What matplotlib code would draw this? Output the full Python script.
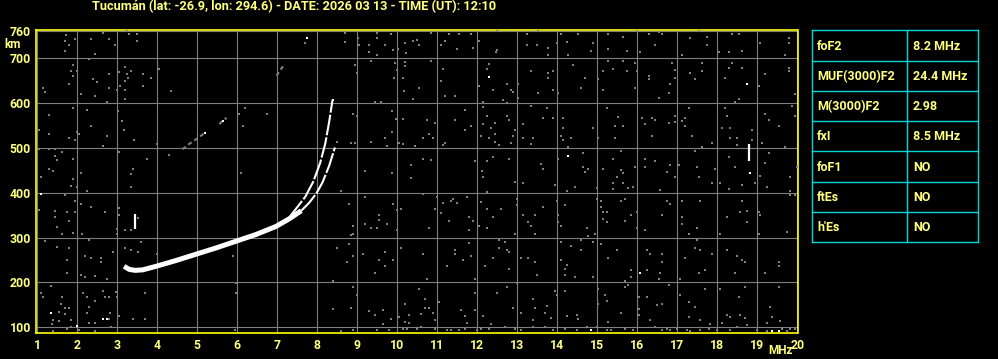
import matplotlib
matplotlib.use("Agg")
import matplotlib.pyplot as plt

TITLE = "Tucumán (lat: -26.9, lon: 294.6) - DATE: 2026 03 13 - TIME (UT): 12:10"

freq_ticks = list(range(1, 21))
height_ticks = [100, 200, 300, 400, 500, 600, 700, 760]

# table of scaled parameters
param_names = ["foF2", "MUF(3000)F2", "M(3000)F2", "fxI", "foF1", "ftEs", "h'Es"]
param_values = ["8.2 MHz", "24.4 MHz", "2.98", "8.5 MHz", "NO", "NO", "NO"]

# F trace: thick lower part (O and X overlapping), then the two split branches
band_mhz = [3.17, 3.3, 3.45, 3.63, 3.97, 4.47, 4.97, 5.47, 5.97, 6.47, 6.97, 7.3, 7.6]
band_km = [236, 229, 227, 228, 236, 249, 263, 277, 292, 307, 325, 342, 360]
branch_o_mhz = [7.3, 7.5, 7.7, 7.9, 8.07, 8.2, 8.3, 8.36, 8.38]
branch_o_km = [345, 368, 391, 425, 466, 510, 560, 595, 607]
branch_x_mhz = [7.6, 7.8, 7.98, 8.13, 8.3, 8.44]
branch_x_km = [360, 378, 399, 423, 461, 501]

# short white vertical echoes
spike_mhz = [3.43, 18.8]
spike_lo_km = [320, 470]
spike_hi_km = [353, 509]

# faint grey echo segments
seg1_mhz = [4.63, 4.8, 5.0, 5.18]
seg1_km = [497, 509, 521, 533]
seg2_mhz = [5.55, 5.63, 5.73]
seg2_km = [553, 560, 567]
seg3_mhz = [6.98, 7.08, 7.18]
seg3_km = [661, 674, 687]

# bright isolated dots
bright_dots = [(7.73, 745), (12.28, 658), (18.73, 643), (14.28, 483), (16.08, 220),
               (1.33, 133), (2.63, 119), (2.73, 119), (1.98, 104), (14.83, 94),
               (19.38, 92), (19.53, 92), (1.08, 398), (18.83, 444), (5.18, 533),
               (5.63, 560), (8.38, 607)]

# grey noise (MHz, km)
noise = [
    (1.72, 751), (1.70, 738), (1.78, 730), (1.68, 717), (1.94, 743), (2.34, 743), (2.63, 756),
    (2.78, 743), (2.93, 730), (3.25, 760), (3.28, 754), (3.48, 753), (3.48, 738), (2.43, 710),
    (2.28, 699), (7.68, 735), (8.68, 756), (8.68, 736), (9.02, 745), (9.03, 730), (9.28, 730),
    (9.28, 714), (9.48, 756), (9.48, 745), (9.48, 708), (9.68, 730), (9.83, 753), (9.88, 719),
    (10.02, 721), (10.18, 734), (10.38, 738), (10.22, 712),
    (1.88, 684), (1.83, 671), (1.98, 671), (1.88, 660), (1.78, 643), (1.15, 634), (1.18, 625),
    (2.38, 653), (2.5, 647), (2.78, 665), (2.8, 634), (2.43, 616), (2.08, 621), (2.73, 603),
    (3.03, 670), (3.2, 680), (3.23, 664), (3.27, 655), (3.18, 649), (3.07, 639), (3.18, 630),
    (3.0, 630), (3.18, 609), (3.35, 671), (3.63, 665), (3.63, 637), (3.85, 656), (4.03, 675),
    (4.33, 627), (8.95, 684), (8.98, 667), (9.33, 693), (9.93, 689), (9.98, 674), (9.92, 656),
    (10.13, 656), (10.18, 692), (10.18, 683), (10.17, 627), (10.4, 610), (9.43, 603), (9.58, 603),
    (1.3, 574), (1.28, 530), (1.03, 540), (1.88, 589), (2.23, 585), (2.33, 548), (1.98, 535),
    (2.03, 532), (1.78, 521), (1.95, 517), (2.73, 526), (2.63, 504), (3.02, 583), (3.12, 561),
    (3.17, 539), (3.42, 517), (4.0, 509), (6.03, 576), (6.18, 589), (6.13, 548), (6.73, 576),
    (8.88, 576), (8.98, 571), (9.87, 582), (9.97, 564), (10.13, 565), (9.68, 521), (9.87, 535),
    (8.83, 510), (8.93, 510), (9.33, 513), (9.75, 505), (10.05, 510), (10.13, 508), (10.43, 504),
    (8.48, 513),
    (1.03, 497), (1.3, 498), (1.43, 498), (1.63, 490), (1.43, 481), (1.5, 472), (1.28, 452),
    (1.38, 449), (1.08, 435), (1.88, 476), (2.08, 444), (1.88, 431), (3.03, 490), (3.73, 476),
    (3.38, 453), (3.35, 441), (4.28, 484), (6.08, 444), (9.18, 449), (9.87, 444), (10.33, 461),
    (10.33, 434),
    (10.5, 741), (10.55, 729), (10.83, 756), (11.28, 754), (11.18, 738), (11.08, 730), (11.53, 753),
    (11.48, 721), (11.83, 754), (11.88, 723), (12.03, 739), (12.48, 761), (12.5, 719), (12.47, 714),
    (13.23, 753), (13.23, 730), (13.48, 730), (13.53, 761), (13.78, 723), (13.78, 708), (13.98, 733),
    (14.08, 753), (14.23, 736), (14.28, 708), (14.53, 754), (14.88, 734), (14.83, 717), (15.28, 753),
    (15.28, 721), (15.63, 747), (15.73, 717), (15.98, 761), (16.08, 713), (16.28, 754), (16.45, 730),
    (16.53, 759), (16.63, 753), (17.13, 708), (17.33, 744), (17.53, 761), (17.73, 748), (17.73, 730),
    (18.03, 713), (18.28, 713), (18.38, 753), (18.53, 753), (18.63, 717), (19.08, 735), (19.68, 708),
    (19.78, 745), (19.78, 733),
    (10.83, 693), (11.13, 675), (11.08, 649), (10.53, 634), (11.18, 616), (11.43, 616), (12.28, 688),
    (12.23, 675), (12.03, 638), (12.38, 628), (12.73, 643), (12.85, 628), (12.88, 625), (12.63, 607),
    (13.03, 643), (13.03, 612), (13.33, 671), (13.78, 667), (13.88, 671), (13.78, 656), (13.88, 630),
    (13.53, 622), (14.03, 622), (14.38, 684), (14.68, 656), (14.58, 634), (15.03, 653), (15.13, 671),
    (15.13, 628), (15.28, 693), (15.38, 675), (15.63, 693), (15.73, 671), (15.93, 689), (15.93, 634),
    (15.98, 671), (16.28, 661), (16.28, 653), (16.53, 612), (16.88, 689), (16.93, 673), (16.93, 656),
    (16.83, 643), (16.78, 622), (17.33, 667), (17.43, 653), (17.63, 689), (17.63, 671), (18.18, 656),
    (18.28, 678), (18.38, 689), (18.63, 678), (18.53, 610), (18.43, 603), (19.03, 637), (19.18, 665),
    (19.78, 678), (19.78, 671), (19.93, 621), (12.15, 603), (12.73, 601),
    (10.93, 555), (10.73, 563), (10.78, 530), (10.63, 521), (10.88, 521), (11.13, 506), (11.18, 510),
    (11.68, 585), (11.43, 562), (11.83, 548), (11.68, 539), (12.13, 592), (12.23, 571), (12.13, 553),
    (12.33, 545), (12.43, 555), (12.43, 530), (12.08, 526), (12.28, 521), (12.43, 514), (12.53, 506),
    (12.73, 571), (12.78, 562), (12.93, 539), (12.88, 526), (12.83, 512), (13.13, 553), (13.13, 521),
    (13.38, 521), (13.33, 508), (13.33, 594), (13.73, 589), (13.63, 567), (13.88, 567), (14.13, 567),
    (14.13, 544), (14.08, 526), (14.33, 521), (14.13, 517), (14.28, 503), (14.88, 544), (15.23, 589),
    (15.43, 548), (15.63, 548), (15.03, 521), (15.43, 521), (15.53, 570), (16.13, 567), (16.18, 553),
    (16.38, 567), (16.43, 562), (16.38, 526), (16.78, 556), (16.93, 571), (16.93, 558), (17.13, 559),
    (17.18, 567), (17.18, 548), (17.28, 589), (17.38, 526), (17.63, 503), (17.88, 512), (18.18, 589),
    (18.23, 571), (18.13, 544), (18.33, 544), (18.33, 521), (18.48, 521), (18.48, 506), (18.88, 539),
    (18.88, 518), (19.18, 576), (19.28, 562), (19.13, 510), (19.53, 548), (19.68, 503), (19.93, 571),
    (19.88, 594),
    (10.63, 476), (10.83, 474), (11.95, 471), (12.23, 471), (12.38, 480), (12.78, 476), (12.11, 449),
    (12.13, 435), (13.6, 465), (13.63, 453), (12.93, 425), (14.63, 489), (14.03, 476), (14.63, 458),
    (14.78, 453), (14.68, 447), (15.13, 453), (15.38, 476), (15.58, 494), (15.58, 450), (15.63, 444),
    (15.48, 435), (15.93, 458), (16.18, 476), (16.18, 458), (16.43, 471), (16.73, 447), (16.83, 462),
    (16.93, 435), (17.03, 462), (17.43, 492), (17.48, 458), (17.53, 435), (17.93, 453), (18.28, 480),
    (18.43, 458), (19.18, 467), (19.28, 489), (19.08, 438), (19.83, 435), (19.98, 458),
    (1.85, 416), (1.98, 413), (3.35, 413), (2.23, 404),
    (1.03, 362), (1.45, 360), (1.68, 395), (1.93, 382), (2.08, 375), (2.33, 369), (1.73, 358),
    (1.95, 356), (2.68, 356), (1.43, 346), (1.78, 337), (3.05, 366), (3.03, 350), (1.48, 324),
    (1.88, 311), (2.12, 308), (1.63, 307), (2.98, 320), (2.98, 308), (3.2, 317), (3.33, 317),
    (3.52, 343), (8.78, 376), (9.18, 391), (9.53, 351), (9.53, 340), (9.75, 330), (9.2, 330),
    (9.33, 321), (9.48, 321), (9.88, 376), (10.08, 364), (9.98, 361), (9.98, 318), (8.83, 306),
    (8.88, 325), (8.58, 405),
    (1.18, 292), (1.48, 278), (2.28, 295), (1.78, 277), (1.73, 249), (2.18, 258), (2.33, 254),
    (2.58, 254), (2.58, 245), (2.08, 217), (2.18, 213), (2.43, 214), (1.73, 222), (2.73, 207),
    (2.88, 267), (3.18, 277), (3.35, 272), (3.58, 290), (3.52, 267), (4.0, 263), (5.88, 258),
    (8.48, 277), (8.78, 286), (8.88, 307), (8.73, 245), (8.88, 258), (9.13, 263), (9.53, 251),
    (9.68, 267), (9.68, 236), (9.43, 222), (10.08, 277), (9.88, 249), (8.38, 204),
    (1.08, 176), (1.13, 168), (1.35, 193), (1.63, 167), (1.58, 153), (1.68, 144), (1.78, 143),
    (1.55, 135), (1.7, 130), (1.38, 116), (1.37, 107), (1.53, 113), (1.83, 116), (2.13, 177),
    (2.23, 168), (2.28, 146), (2.23, 133), (2.43, 158), (2.63, 180), (2.68, 168), (2.78, 168),
    (2.97, 178), (3.0, 167), (2.82, 131), (2.78, 119), (3.03, 125), (2.43, 109), (2.28, 109),
    (1.83, 101), (3.68, 177), (3.38, 119), (3.68, 119), (5.97, 198), (5.97, 177),
    (8.88, 190), (8.98, 173), (8.38, 140), (8.83, 143), (9.28, 136), (9.43, 128), (9.63, 139),
    (10.18, 152), (10.03, 124), (10.28, 128), (10.18, 112), (9.83, 118), (9.63, 107), (10.28, 110),
    (1.38, 92), (1.73, 97), (2.03, 95), (2.43, 92), (2.83, 101), (5.93, 95), (8.58, 92), (8.88, 94),
    (9.48, 94), (9.78, 95), (10.13, 97), (10.23, 97),
    (12.23, 401), (12.93, 423), (13.13, 421), (13.93, 417), (14.23, 405), (14.43, 413), (14.98, 410),
    (15.38, 421), (15.63, 421), (15.88, 413), (15.38, 408), (15.78, 410), (16.58, 407), (17.88, 421),
    (18.08, 421), (18.28, 408), (18.63, 417), (18.93, 421), (19.23, 413), (19.83, 404),
    (10.63, 398), (10.98, 391), (10.93, 364), (11.13, 378), (11.38, 386), (11.33, 382), (11.48, 378),
    (11.73, 391), (11.08, 354), (11.28, 338), (10.78, 321), (11.78, 347), (11.88, 338), (11.78, 317),
    (12.23, 364), (12.08, 380), (12.38, 347), (12.58, 364), (12.03, 325), (12.23, 321), (12.98, 386),
    (12.98, 373), (12.93, 308), (13.13, 351), (13.28, 334), (13.33, 325), (13.43, 350), (13.43, 307),
    (13.63, 369), (13.98, 382), (14.03, 350), (14.03, 334), (14.08, 325), (14.18, 373), (14.73, 321),
    (14.93, 308), (14.98, 386), (15.08, 382), (15.13, 356), (15.23, 356), (15.23, 334), (15.13, 341),
    (15.08, 369), (15.58, 382), (15.68, 386), (15.68, 338), (15.83, 351), (15.98, 356), (15.98, 321),
    (16.18, 317), (16.63, 351), (16.73, 382), (16.83, 376), (17.13, 382), (17.13, 347), (17.13, 330),
    (17.28, 308), (17.48, 321), (17.58, 382), (18.08, 308), (18.23, 347), (18.58, 356), (18.63, 382),
    (18.73, 334), (18.73, 360), (19.03, 356), (19.08, 351), (19.03, 308), (19.73, 312), (19.83, 395),
    (19.93, 395),
    (10.63, 264), (10.73, 208), (11.43, 272), (11.43, 263), (11.23, 236), (11.63, 249), (11.78, 289),
    (11.83, 258), (11.93, 208), (12.18, 236), (12.38, 254), (12.53, 295), (12.53, 277), (12.68, 290),
    (12.73, 272), (12.78, 267), (12.78, 231), (13.08, 254), (13.28, 254), (13.43, 245), (13.48, 217),
    (14.08, 290), (14.08, 249), (14.18, 231), (14.18, 217), (14.23, 240), (14.33, 281), (14.43, 213),
    (14.58, 295), (14.58, 272), (14.78, 304), (14.88, 290), (14.88, 213), (15.08, 286), (15.28, 254),
    (15.48, 272), (15.68, 204), (15.83, 227), (15.83, 213), (16.23, 272), (16.33, 263), (16.23, 227),
    (16.53, 207), (16.63, 263), (16.63, 245), (16.58, 222), (17.08, 208), (17.18, 254), (17.43, 277),
    (17.48, 295), (17.58, 272), (17.68, 227), (17.53, 220), (17.88, 263), (18.23, 272), (18.48, 258),
    (18.63, 249), (18.68, 245), (18.43, 220), (19.18, 222), (19.53, 245), (19.53, 236),
    (10.53, 186), (10.68, 164), (10.68, 144), (10.78, 144), (10.88, 133), (10.58, 130), (10.93, 116),
    (11.03, 156), (11.58, 139), (11.68, 125), (11.93, 177), (11.93, 139), (11.73, 110), (12.13, 125),
    (12.48, 177), (12.73, 190), (12.88, 144), (12.33, 107), (13.08, 133), (12.98, 199), (13.38, 164),
    (13.43, 144), (13.38, 116), (13.73, 147), (13.83, 121), (13.68, 133), (13.93, 181), (13.98, 173),
    (14.18, 181), (14.23, 125), (14.48, 128), (14.53, 119), (15.03, 186), (15.18, 173), (15.23, 159),
    (15.03, 152), (15.28, 112), (15.58, 133), (15.68, 190), (15.78, 195), (16.03, 168), (16.23, 168),
    (16.03, 141), (16.03, 128), (16.33, 116), (16.48, 150), (16.63, 152), (16.78, 195), (17.08, 173),
    (17.28, 156), (17.43, 146), (17.28, 124), (17.58, 116), (17.68, 186), (17.83, 107), (18.08, 186),
    (18.23, 128), (18.33, 124), (18.53, 168), (18.58, 128), (18.68, 190), (18.68, 121), (19.33, 146),
    (19.38, 124), (19.53, 190), (19.58, 115), (19.23, 110), (18.73, 106), (18.13, 109),
    (10.48, 97), (10.58, 101), (10.93, 97), (11.23, 95), (11.33, 94), (11.53, 95), (11.68, 97),
    (11.98, 94), (12.08, 97), (12.28, 97), (12.68, 101), (12.93, 97), (13.08, 94), (13.38, 101),
    (13.68, 101), (13.88, 95), (14.18, 97), (14.48, 95), (14.73, 101), (14.98, 101), (15.23, 95),
    (15.33, 95), (15.68, 97), (15.88, 94), (16.43, 101), (16.63, 95), (16.73, 97), (16.83, 94),
    (16.98, 97), (17.23, 95), (17.33, 92), (17.58, 94), (17.78, 97), (17.98, 94), (18.33, 95),
    (18.48, 101), (18.98, 95), (19.23, 92), (19.63, 97), (19.73, 92), (19.83, 97), (19.93, 97),
]

YELLOW = "#ffff00"
TEXT = "#ffff80"
GRID = "#7f7f7f"
CYAN = "#00d8d8"
FONT = ["Roboto", "DejaVu Sans"]

plt.rcParams["font.family"] = FONT
plt.rcParams["font.weight"] = "bold"

fig = plt.figure(figsize=(9.98, 3.59), dpi=100, facecolor="black")
ax = fig.add_axes([35.7 / 998, 26 / 359, 761.8 / 998, 329.5 / 359 - 26 / 359])
ax.set_facecolor("black")
ax.set_xlim(0.96, 20.005)
ax.set_ylim(87.3, 764)

ax.set_xticks(freq_ticks)
ax.set_yticks(height_ticks)
ax.grid(True, color=GRID, lw=0.8)
ax.tick_params(length=0, colors=TEXT, labelsize=8.8)
ax.tick_params(axis="x", pad=4.5)
ax.tick_params(axis="y", pad=3.5)
for lab in ax.get_xticklabels() + ax.get_yticklabels():
    lab.set_fontweight("bold")
for sp in ax.spines.values():
    sp.set_color(YELLOW)
    sp.set_linewidth(1.2)

nf = [p[0] for p in noise]
nh = [p[1] for p in noise]
ax.scatter(nf, nh, marker="s", s=4.5, c="#808080", linewidths=0, zorder=3)

for sm, sk in [(seg1_mhz, seg1_km), (seg2_mhz, seg2_km), (seg3_mhz, seg3_km)]:
    ax.plot(sm, sk, color="#808080", lw=1.5, ls=(0, (2, 1.5)), zorder=3)

ax.plot(band_mhz, band_km, color="white", lw=3.6, solid_capstyle="butt", zorder=4)
ax.plot(branch_o_mhz, branch_o_km, color="white", lw=1.5, ls=(0, (10, 1.0)), zorder=4)
ax.plot(branch_x_mhz, branch_x_km, color="white", lw=1.5, ls=(0, (10, 1.0)), zorder=4)
ax.vlines(spike_mhz, spike_lo_km, spike_hi_km, color="white", lw=1.6, zorder=4)

bf = [p[0] for p in bright_dots]
bh = [p[1] for p in bright_dots]
ax.scatter(bf, bh, marker="s", s=4.5, c="white", linewidths=0, zorder=5)

fig.text(294 / 998, 352 / 359, TITLE, color=TEXT, fontsize=9.2, fontweight="bold",
         ha="center", va="center")
fig.text(13 / 998, 314 / 359, "km", color=TEXT, fontsize=8.5, fontweight="bold",
         ha="center", va="center")
fig.text(780 / 998, 8 / 359, "MHz", color=TEXT, fontsize=8.5, fontweight="bold",
         ha="center", va="center")

# parameter table
tab = fig.add_axes([812.3 / 998, 116.7 / 359, 165.4 / 998, 212 / 359])
tab.set_xlim(0, 1)
tab.set_ylim(len(param_names), 0)
tab.axis("off")
col_split = (907.3 - 812.3) / 165.4
for i in range(len(param_names) + 1):
    tab.plot([0, 1], [i, i], color=CYAN, lw=1, clip_on=False)
for xv in [0, col_split, 1]:
    tab.plot([xv, xv], [0, len(param_names)], color=CYAN, lw=1, clip_on=False)
for i, (nm, val) in enumerate(zip(param_names, param_values)):
    tab.text(0.03, i + 0.52, nm, color=TEXT, fontsize=9, fontweight="bold", va="center")
    tab.text(col_split + 0.035, i + 0.52, val, color=TEXT, fontsize=9,
             fontweight="bold", va="center")

fig.savefig("out.png", dpi=100, facecolor="black")
